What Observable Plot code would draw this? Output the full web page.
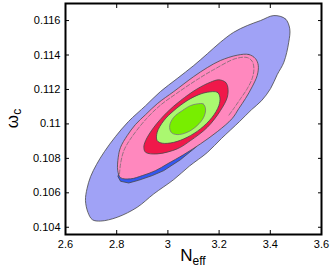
<!DOCTYPE html>
<html><head><meta charset="utf-8">
<script src="https://cdn.jsdelivr.net/npm/d3@7"></script>
<script src="https://cdn.jsdelivr.net/npm/@observablehq/plot@0.6"></script>
<style>body{margin:0;background:#fff}#chart{width:332px;height:273px}</style>
</head><body><div id="chart"></div>
<script>
// Axis ticks
const xTicks = [2.6, 2.8, 3.0, 3.2, 3.4, 3.6];
const xTickLabels = ["2.6", "2.8", "3", "3.2", "3.4", "3.6"];
const yTicks = [0.104, 0.106, 0.108, 0.110, 0.112, 0.114, 0.116];
const yTickLabels = ["0.104", "0.106", "0.108", "0.11", "0.112", "0.114", "0.116"];

// Outer (lavender) contour
const outerN = [3.414,3.459,3.476,3.472,3.453,3.427,3.401,3.366,3.327,3.280,3.209,3.154,3.084,3.023,2.945,2.880,2.802,2.737,2.705,2.688,2.678,2.684,2.698,2.721,2.752,2.795,2.846,2.913,2.971,3.036,3.101,3.154,3.205,3.257,3.310,3.362];
const outerW = [0.11629,0.11610,0.11552,0.11474,0.11358,0.11286,0.11205,0.11135,0.11083,0.11014,0.10915,0.10834,0.10755,0.10677,0.10594,0.10516,0.10458,0.10436,0.10444,0.10485,0.10555,0.10624,0.10694,0.10764,0.10839,0.10926,0.11014,0.11106,0.11188,0.11263,0.11339,0.11407,0.11474,0.11532,0.11571,0.11600];

// Blue contour (visible only as a thin crescent below the pink one)
const blueN = [3.110,3.049,2.984,2.939,2.886,2.847,2.815,2.805,2.815,2.950,3.050];
const blueW = [0.10866,0.10792,0.10729,0.10700,0.10673,0.10657,0.10667,0.10694,0.10760,0.10800,0.10840];

// Pink contour
const pinkN = [3.271,3.316,3.342,3.353,3.349,3.329,3.303,3.277,3.251,3.193,3.127,3.062,2.997,2.952,2.900,2.854,2.815,2.804,2.806,2.815,2.841,2.873,2.913,2.959,3.023,3.101,3.154,3.205];
const pinkW = [0.11399,0.11403,0.11379,0.11340,0.11282,0.11215,0.11147,0.11089,0.11031,0.10955,0.10884,0.10822,0.10767,0.10729,0.10700,0.10681,0.10688,0.10729,0.10806,0.10864,0.10932,0.10996,0.11054,0.11118,0.11188,0.11275,0.11327,0.11368];

// Dashed inner contour line inside pink
const dashN = [2.811,2.815,2.828,2.854,2.913,2.971,3.036,3.114,3.179,3.264,3.310,3.329,3.336,3.329,3.310,3.284,3.257,3.238];
const dashW = [0.10710,0.10768,0.10845,0.10913,0.11025,0.11109,0.11179,0.11257,0.11315,0.11379,0.11385,0.11364,0.11321,0.11263,0.11205,0.11147,0.11089,0.11050];

// Red contour
const redN = [3.199,3.225,3.234,3.232,3.205,3.154,3.088,3.036,2.958,2.913,2.906,2.913,2.945,2.997,3.049,3.114,3.166];
const redW = [0.11256,0.11242,0.11213,0.11155,0.11077,0.10980,0.10903,0.10855,0.10826,0.10835,0.10864,0.10903,0.10980,0.11068,0.11135,0.11203,0.11242];

// Light green contour
const lgreenN = [3.154,3.193,3.203,3.199,3.173,3.127,3.075,3.023,2.978,2.958,2.958,2.984,3.023,3.075,3.121];
const lgreenW = [0.11184,0.11184,0.11155,0.11106,0.11039,0.10971,0.10922,0.10893,0.10888,0.10903,0.10951,0.11019,0.11077,0.11135,0.11170];

// Bright green contour
const greenN = [3.114,3.138,3.147,3.140,3.114,3.075,3.036,3.013,3.007,3.023,3.056,3.088];
const greenW = [0.11116,0.11116,0.11087,0.11039,0.10990,0.10951,0.10938,0.10951,0.10990,0.11039,0.11077,0.11106];

const pts = (ns, ws) => ns.map((n, i) => ({n, w: ws[i]}));

const W = 332, H = 273, mL = 65, mR = 11, mT = 3, mB = 39;
const font = "'Liberation Sans', Arial, Helvetica, sans-serif";
const edge = "#474747";

const chart = Plot.plot({
  width: W, height: H,
  marginLeft: mL, marginRight: mR, marginTop: mT, marginBottom: mB,
  style: {fontFamily: font, fontSize: "11px", color: "#000", background: "#fff"},
  x: {domain: [2.6, 3.6]},
  y: {domain: [0.10358, 0.11699]},
  marks: [
    Plot.line(pts(outerN, outerW), {x: "n", y: "w", curve: "catmull-rom-closed", fill: "#a0a2f6", stroke: edge, strokeWidth: 0.8}),
    Plot.line(pts(blueN, blueW), {x: "n", y: "w", curve: "linear-closed", fill: "#3358f0", stroke: edge, strokeWidth: 0.8}),
    Plot.line(pts(pinkN, pinkW), {x: "n", y: "w", curve: "catmull-rom-closed", fill: "#ff88be", stroke: edge, strokeWidth: 0.8}),
    Plot.line(pts(dashN, dashW), {x: "n", y: "w", curve: "catmull-rom", stroke: "#666", strokeWidth: 0.7, strokeDasharray: "4,2"}),
    Plot.line(pts(redN, redW), {x: "n", y: "w", curve: "catmull-rom-closed", fill: "#f0184a", stroke: edge, strokeWidth: 0.8}),
    Plot.line(pts(lgreenN, lgreenW), {x: "n", y: "w", curve: "catmull-rom-closed", fill: "#aaf870", stroke: edge, strokeWidth: 0.8}),
    Plot.line(pts(greenN, greenW), {x: "n", y: "w", curve: "catmull-rom-closed", fill: "#78ee00", stroke: "#777", strokeWidth: 0.8}),
    Plot.axisX(xTicks, {anchor: "bottom", tickSize: 0, tickPadding: 6, tickFormat: d => xTickLabels[xTicks.indexOf(d)], label: null}),
    Plot.axisX(xTicks, {anchor: "bottom", tickSize: -4, tickFormat: () => "", label: null}),
    Plot.axisX(xTicks, {anchor: "top", tickSize: -4, tickFormat: () => "", label: null}),
    Plot.axisY(yTicks, {anchor: "left", tickSize: 0, tickPadding: 5, tickFormat: d => yTickLabels[yTicks.indexOf(d)], label: null}),
    Plot.axisY(yTicks, {anchor: "left", tickSize: -4, tickFormat: () => "", label: null}),
    Plot.axisY(yTicks, {anchor: "right", tickSize: -4, tickFormat: () => "", label: null}),
    Plot.frame({stroke: "#000", strokeWidth: 2})
  ]
});
document.getElementById("chart").appendChild(chart);

const svg = d3.select(chart);
const cx = (mL + W - mR) / 2, cy = (mT + H - mB) / 2;
const xl = svg.append("text").attr("x", cx).attr("y", 261).attr("text-anchor", "middle")
  .style("font-family", font).attr("fill", "#000");
xl.append("tspan").attr("font-size", 17).text("N");
xl.append("tspan").attr("font-size", 12).attr("dy", 4).text("eff");
const yl = svg.append("text").attr("transform", `translate(18,${cy}) rotate(-90)`).attr("text-anchor", "middle")
  .style("font-family", font).attr("fill", "#000");
yl.append("tspan").attr("font-size", 17).text("ω");
yl.append("tspan").attr("font-size", 12).attr("dy", 3).text("c");
</script>
</body></html>
